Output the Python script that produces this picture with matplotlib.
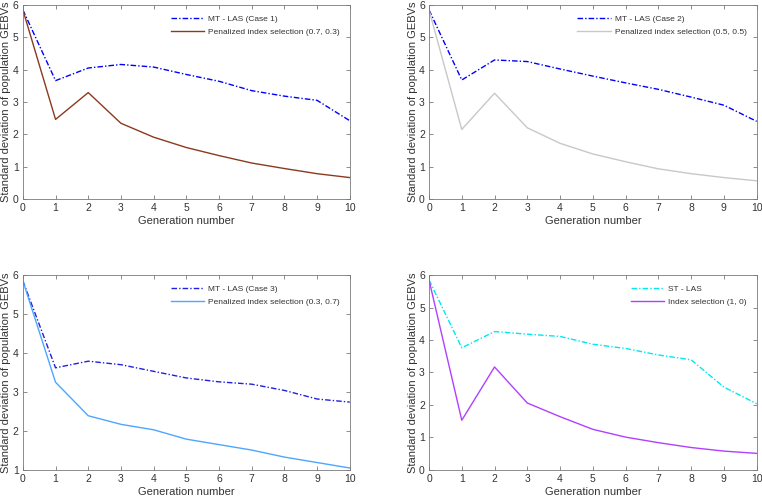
import matplotlib
matplotlib.use("Agg")
import matplotlib.pyplot as plt
import numpy as np

plt.rcParams['font.family'] = ['Liberation Sans', 'DejaVu Sans']

generations = list(range(11))

mt_case1 = [5.85, 3.66, 4.05, 4.16, 4.08, 3.85, 3.64, 3.35, 3.18, 3.05, 2.42]
pen_07_03 = [5.85, 2.46, 3.29, 2.34, 1.91, 1.59, 1.34, 1.11, 0.94, 0.78, 0.66]

mt_case2 = [5.85, 3.68, 4.30, 4.25, 4.02, 3.80, 3.59, 3.39, 3.15, 2.90, 2.40]
pen_05_05 = [5.85, 2.15, 3.27, 2.20, 1.72, 1.39, 1.15, 0.93, 0.78, 0.66, 0.56]

mt_case3 = [5.85, 3.62, 3.79, 3.70, 3.53, 3.36, 3.26, 3.20, 3.04, 2.82, 2.74]
pen_03_07 = [5.85, 3.25, 2.39, 2.17, 2.03, 1.79, 1.65, 1.51, 1.33, 1.19, 1.05]

st_las = [5.85, 3.76, 4.26, 4.18, 4.11, 3.87, 3.74, 3.54, 3.39, 2.55, 2.04]
index_1_0 = [5.85, 1.53, 3.17, 2.06, 1.64, 1.25, 1.01, 0.84, 0.69, 0.58, 0.51]

panels = [
    dict(pos=[0.030, 0.603, 0.429, 0.387], ylim=(0, 6),
         a=mt_case1, a_lab='MT - LAS (Case 1)', a_col='#0000ff',
         b=pen_07_03, b_lab='Penalized index selection (0.7, 0.3)', b_col='#8b3a1e'),
    dict(pos=[0.563, 0.603, 0.430, 0.387], ylim=(0, 6),
         a=mt_case2, a_lab='MT - LAS (Case 2)', a_col='#0000ff',
         b=pen_05_05, b_lab='Penalized index selection (0.5, 0.5)', b_col='#c8c8c8'),
    dict(pos=[0.030, 0.062, 0.429, 0.389], ylim=(1, 6),
         a=mt_case3, a_lab='MT - LAS (Case 3)', a_col='#2020e0',
         b=pen_03_07, b_lab='Penalized index selection (0.3, 0.7)', b_col='#4da6ff'),
    dict(pos=[0.563, 0.062, 0.430, 0.389], ylim=(0, 6),
         a=st_las, a_lab='ST - LAS', a_col='#00e8f0',
         b=index_1_0, b_lab='Index selection (1, 0)', b_col='#b040ff'),
]

fig = plt.figure(figsize=(7.62, 5.01), dpi=100)
axcol = '#7a7a7a'
txtcol = '#333333'
for p in panels:
    ax = fig.add_axes(p['pos'])
    ax.plot(generations, p['a'], color=p['a_col'], ls=(0, (4, 1.5, 1, 1.5)), lw=1.0, label=p['a_lab'])
    ax.plot(generations, p['b'], color=p['b_col'], ls='-', lw=1.0, label=p['b_lab'])
    ax.set_xlim(0, 10)
    ax.set_ylim(*p['ylim'])
    ax.set_xticks(range(11))
    ax.set_yticks(np.arange(p['ylim'][0], p['ylim'][1] + 0.1, 1))
    ax.tick_params(direction='in', top=True, right=True, length=3, width=0.6,
                   colors=axcol, labelcolor=txtcol, labelsize=7.5, pad=3)
    for s in ax.spines.values():
        s.set_color(axcol)
        s.set_linewidth(0.6)
    ax.set_xlabel('Generation number', fontsize=8, color=txtcol, labelpad=2)
    ax.set_ylabel('Standard deviation of population GEBVs', fontsize=8, color=txtcol, labelpad=1)
    leg = ax.legend(loc='upper right', frameon=False, fontsize=6, handlelength=4.0,
                    borderaxespad=0.8, labelspacing=0.65, handletextpad=0.5)
    for t in leg.get_texts():
        t.set_color(txtcol)

fig.savefig('out.png', dpi=100)
